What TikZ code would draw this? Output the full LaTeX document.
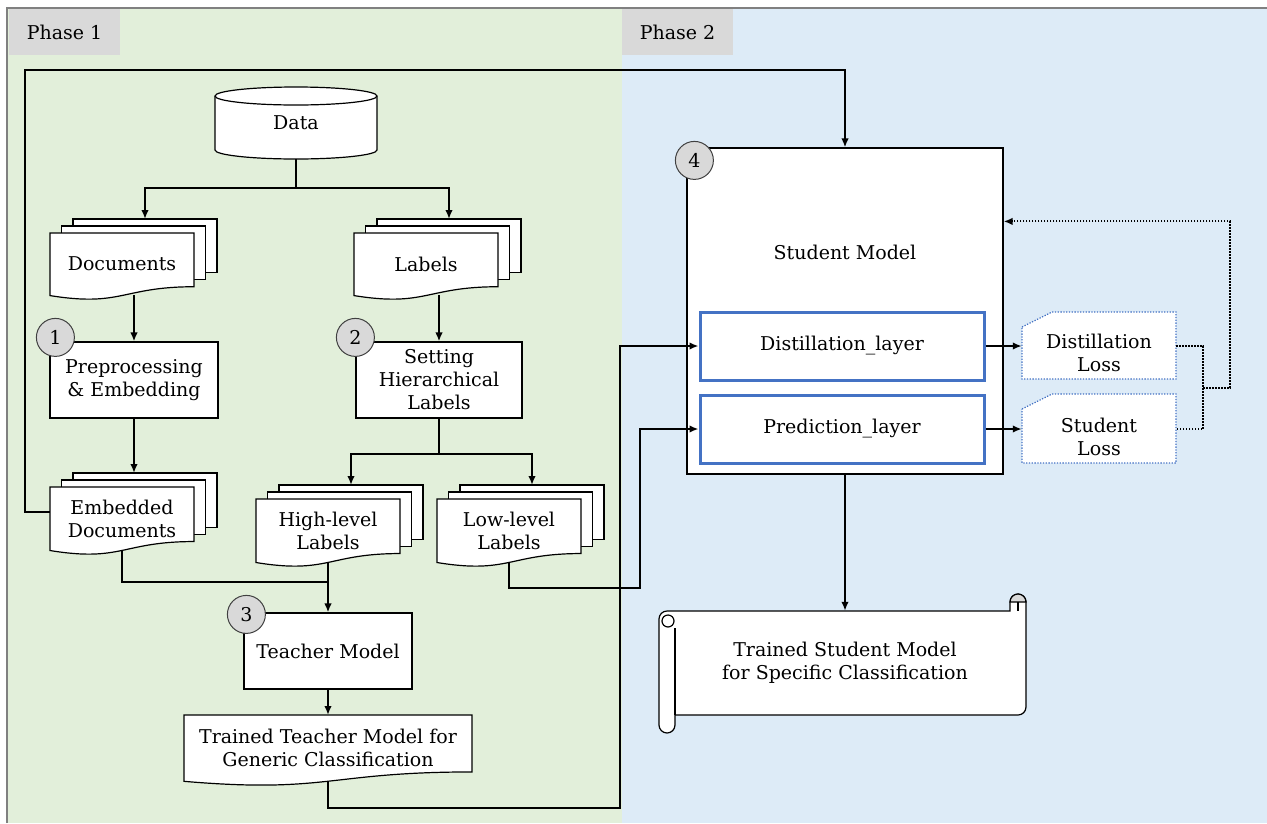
\documentclass[tikz,border=0pt]{standalone}
\usepackage{fontspec}
\setmainfont{DejaVu Serif}
\usepackage{tikz}
\usetikzlibrary{positioning,calc,arrows.meta,shapes}

\definecolor{phgreen}{HTML}{E2EFDA}
\definecolor{phblue}{HTML}{DDEBF7}
\definecolor{phgray}{HTML}{D9D9D9}
\definecolor{layerblue}{HTML}{4472C4}

% one page with a wavy bottom: name, left, top, right, height, text
\newcommand{\docsheet}[6]{%
  \filldraw[sheet] (#2,#3) -- (#4,#3) -- (#4,{#3+0.802*#5})
    .. controls ({(#2+#4)/2},{#3+0.802*#5}) and ({(#2+#4)/2},{#3+1.107*#5}) .. (#2,{#3+0.934*#5}) -- cycle;
  \node[doctext, minimum width={#4-#2}, minimum height={round(0.93*#5)}, anchor=north] (#1) at ({(#2+#4)/2},#3) {#6};
}
% three pages stacked
\newcommand{\docstack}[6]{%
  \filldraw[sheet] (#2+23,#3-14) rectangle (#4+23,{#3+0.802*#5-14});
  \filldraw[sheet] (#2+11.5,#3-7) rectangle (#4+11.5,{#3+0.802*#5-7});
  \coordinate (#1-top) at ({(#2+#4)/2+23},#3-14);
  \docsheet{#1}{#2}{#3}{#4}{#5}{#6}
}

\begin{document}
\begin{tikzpicture}[x=1pt, y=-1pt, >={Latex[length=9pt,width=7.5pt]}, font=\fontsize{19}{23}\selectfont]
  \tikzstyle{sheet} = [draw, fill=white, line width=1.2pt]
  \tikzstyle{doctext} = [rectangle, align=center, inner sep=0pt]
  \tikzstyle{box} = [draw, rectangle, fill=white, line width=1.2pt, align=center, inner sep=0pt]
  \tikzstyle{layer} = [draw=layerblue, rectangle, fill=white, line width=3pt, inner sep=0pt, minimum width=284, minimum height=68]
  \tikzstyle{num} = [draw=black!75, circle, fill=phgray, line width=1pt, minimum size=38, inner sep=0pt]
  \tikzstyle{phase} = [rectangle, fill=phgray, minimum width=111, minimum height=46, inner sep=0pt]
  \tikzstyle{conn} = [line width=2pt]
  \tikzstyle{loss} = [draw=layerblue, dash pattern=on 1.3pt off 1.5pt, fill=white, line width=1.3pt]
  \tikzstyle{fback} = [line width=2pt, dash pattern=on 1.6pt off 1.4pt]

  \useasboundingbox (0,0) rectangle (1267,823);

  % the two phases
  \fill[phgreen] (7,8) rectangle (622,823);
  \fill[phblue] (622,8) rectangle (1267,823);
  \draw[gray, line width=2pt] (7,823) -- (7,8) -- (1267,8);
  \node[phase] (ph1) at (64.5,32) {Phase 1};
  \node[phase] (ph2) at (677.5,32) {Phase 2};

  % phase 1
  \filldraw[sheet] (215,96) -- (215,150) arc[start angle=180, end angle=0, x radius=81, y radius=9]
    -- (377,96) arc[start angle=0, end angle=-180, x radius=81, y radius=9] -- cycle;
  \draw[sheet] (215,96) arc[start angle=180, end angle=0, x radius=81, y radius=9];
  \node[doctext, minimum width=162, minimum height=72] (data) at (296,123) {Data};

  \docstack{docs}{50}{233}{194}{67}{Documents}
  \docstack{labels}{354}{233}{498}{67}{Labels}

  \node[box, minimum width=168, minimum height=76] (prep) at (134,380) {Preprocessing\\\& Embedding};
  \node[box, minimum width=166, minimum height=76] (setting) at (439,380) {Setting\\Hierarchical\\Labels};

  \docstack{emb}{50}{487}{194}{68}{Embedded\\Documents}
  \docstack{hl}{256}{499}{400}{68}{High-level\\Labels}
  \docstack{ll}{437}{499}{581}{68}{Low-level\\Labels}

  \node[box, minimum width=168, minimum height=76] (teacher) at (328,651) {Teacher Model};
  \docsheet{tt}{184}{715}{472}{71}{Trained Teacher Model for\\Generic Classification}

  % phase 2
  \node[box, minimum width=316, minimum height=326] (student) at (845,311) {};
  \node (stext) at (845,252) {Student Model};
  \node[layer] (dist) at (842,346) {Distillation\_layer};
  \node[layer] (pred) at (842,429) {Prediction\_layer};

  \filldraw[loss] (1022,327) -- (1052,312) -- (1176,312) -- (1176,379) -- (1022,379) -- cycle;
  \node[doctext, minimum width=154, minimum height=67] (dloss) at (1099,353) {Distillation\\Loss};
  \filldraw[loss] (1022,409) -- (1052,394) -- (1176,394) -- (1176,463) -- (1022,463) -- cycle;
  \node[doctext, minimum width=154, minimum height=69] (sloss) at (1099,436.5) {Student\\Loss};

  \filldraw[sheet] (667,611) -- (1010,611) -- (1010,602) arc[start angle=180, end angle=360, radius=8]
    -- (1026,707) arc[start angle=0, end angle=90, radius=8] -- (675,715) -- (675,725)
    arc[start angle=0, end angle=180, radius=8] -- (659,619) arc[start angle=180, end angle=270, radius=8] -- cycle;
  \draw[sheet] (675,628) -- (675,715);
  \filldraw[sheet] (668,621) circle[radius=6];
  \filldraw[sheet, fill=phgray] (1010,602) arc[start angle=180, end angle=360, radius=8] -- cycle;
  \draw[sheet] (1018,602) -- (1018,611);
  \node[doctext, minimum width=351, minimum height=104] (scroll) at (845,663) {Trained Student Model\\for Specific Classification};

  % connectors
  \draw[conn,->] (data.south) -- ++(0,29) -| (docs-top);
  \draw[conn,->] (data.south) ++(0,29) -| (labels-top);
  \draw[conn,->] (prep.north |- docs.south) -- (prep.north);
  \draw[conn,->] (setting.north |- labels.south) -- (setting.north);
  \draw[conn,->] (prep.south) -- (prep.south |- emb-top);
  \draw[conn,->] (setting.south) -- ++(0,35) -| (hl-top);
  \draw[conn,->] (setting.south) ++(0,35) -| (ll-top);
  \draw[conn] (emb.south) -- ++(0,32) -| (hl.south);
  \draw[conn,->] (hl.south) -- (teacher.north);
  \draw[conn,->] (teacher.south) -- (tt.north);
  \draw[conn,->] (tt.south) -- ++(0,27) -- ++(292,0) |- (dist.west);
  \draw[conn,->] (ll.south) -- ++(0,26) -- ++(131,0) |- (pred.west);
  \draw[conn,->] ($(emb.north west)+(0,25)$) -- ++(-25,0) -- ++(0,-442) -| (student.north);
  \draw[conn,->] (dist.east) -- (dist.east -| dloss.west);
  \draw[conn,->] (pred.east) -- (pred.east -| sloss.west);
  \draw[conn,->] (student.south) -- (scroll.north);

  \draw[fback] (dloss.east |- dist.east) -- ++(27,0) |- (sloss.east |- pred.east);
  \coordinate (fbj) at ($(dloss.east |- dist.east)!0.5!(sloss.east |- pred.east)+(27,0)$);
  \draw[fback,->] (fbj) -- ++(27,0) |- ($(student.north east)+(0,74)$);

  % step numbers
  \node[num] (n1) at ($(prep.north west)+(6,-4)$) {1};
  \node[num] (n2) at ($(setting.north west)+(0,-4)$) {2};
  \node[num] (n3) at ($(teacher.north west)+(3,2)$) {3};
  \node[num] (n4) at ($(student.north west)+(8,13)$) {4};
\end{tikzpicture}
\end{document}
